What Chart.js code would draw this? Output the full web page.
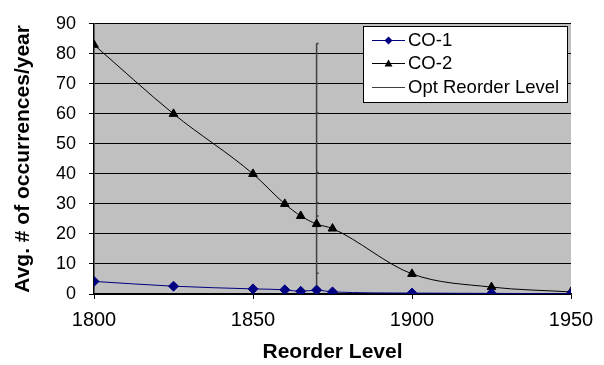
<!DOCTYPE html>
<html>
<head>
<meta charset="utf-8">
<script src="https://cdn.jsdelivr.net/npm/chart.js@4"></script>
<style>
  html, body { margin: 0; padding: 0; background: #fff; }
</style>
</head>
<body>
<canvas id="myChart" width="604" height="365"></canvas>
<script>
// Chart values
const reorderLevels = [1800, 1825, 1850, 1860, 1865, 1870, 1875, 1900, 1925, 1950];
const co1 = [4.2, 2.6, 1.7, 1.4, 0.9, 1.3, 0.7, 0.3, 0.2, 0.1];
const co2 = [83, 60, 40, 30, 26, 23.3, 21.8, 6.7, 2.3, 0.7];
const optLevel = 1870;
const optY = [83.4, 60.3, 40.5, 30.4, 26, 23.3, 6.9, 1.6];
const xTicks = [1800, 1850, 1900, 1950];
const yTicks = [0, 10, 20, 30, 40, 50, 60, 70, 80, 90];

const FONT = 'Liberation Sans, Arial, sans-serif';

// Gray plot background
const plotBg = {
    id: 'plotBg',
    beforeDraw(chart) {
        const a = chart.chartArea, c = chart.ctx;
        c.save();
        c.fillStyle = '#c0c0c0';
        c.fillRect(a.left, a.top, a.right - a.left, a.bottom - a.top);
        c.restore();
    }
};

// Boxed legend drawn inside the plot, like the original
const boxLegend = {
    id: 'boxLegend',
    afterDraw(chart) {
        const c = chart.ctx;
        const x = 363, y = 26, w = 204, h = 76;
        c.save();
        c.fillStyle = '#fff';
        c.fillRect(x, y, w, h);
        c.strokeStyle = '#000';
        c.lineWidth = 1;
        c.strokeRect(x + 0.5, y + 0.5, w, h);
        const rows = [40, 63, 87];
        chart.data.datasets.forEach((ds, i) => {
            const ry = rows[i] + 0.5;
            c.strokeStyle = ds.borderColor;
            c.lineWidth = 1;
            c.beginPath();
            c.moveTo(372, ry);
            c.lineTo(405, ry);
            c.stroke();
            c.fillStyle = ds.borderColor;
            if (ds.pointStyle === 'rectRot') {
                c.beginPath();
                c.moveTo(388.5, ry - 4); c.lineTo(392.5, ry); c.lineTo(388.5, ry + 4); c.lineTo(384.5, ry);
                c.closePath(); c.fill();
            } else if (ds.pointStyle === 'triangle') {
                c.beginPath();
                c.moveTo(388.5, ry - 4); c.lineTo(392.5, ry + 3); c.lineTo(384.5, ry + 3);
                c.closePath(); c.fill();
            }
            c.fillStyle = '#000';
            c.font = '18.5px ' + FONT;
            c.textBaseline = 'middle';
            c.fillText(ds.label, 408, rows[i] + 1);
        });
        c.restore();
    }
};

const ctx = document.getElementById('myChart');
new Chart(ctx, {
    type: 'line',
    data: {
        datasets: [{
            label: 'CO-1',
            data: reorderLevels.map((x, i) => ({ x: x, y: co1[i] })),
            borderColor: '#000080',
            backgroundColor: '#000080',
            borderWidth: 1,
            pointStyle: 'rectRot',
            pointRadius: 5,
            cubicInterpolationMode: 'monotone'
        }, {
            label: 'CO-2',
            data: reorderLevels.map((x, i) => ({ x: x, y: co2[i] })),
            borderColor: '#000',
            backgroundColor: '#000',
            borderWidth: 1,
            pointStyle: 'triangle',
            pointRadius: 5,
            cubicInterpolationMode: 'monotone'
        }, {
            label: 'Opt Reorder Level',
            data: optY.map(y => ({ x: optLevel, y: y })),
            borderColor: '#404040',
            backgroundColor: '#404040',
            borderWidth: 1.5,
            pointStyle: 'dash',
            pointRadius: 2,
            tension: 0
        }]
    },
    options: {
        responsive: false,
        animation: false,
        events: [],
        layout: { padding: { top: 14, right: 33, left: 0, bottom: 0 } },
        plugins: {
            legend: { display: false },
            tooltip: { enabled: false }
        },
        scales: {
            x: {
                type: 'linear',
                min: 1800,
                max: 1950,
                afterBuildTicks: s => { s.ticks = xTicks.map(v => ({ value: v })); },
                afterFit: s => { s.height = 71; },
                grid: { display: true, drawOnChartArea: false, tickLength: 5, color: '#000' },
                border: { color: '#000', width: 1.5 },
                ticks: {
                    color: '#000', padding: 9, maxRotation: 0, autoSkip: false,
                    callback: v => String(v),
                    font: { family: FONT, size: 20 }
                },
                title: {
                    display: true,
                    text: 'Reorder Level',
                    color: '#000',
                    padding: { top: 0, bottom: 0 },
                    font: { family: FONT, size: 21, weight: 'bold' }
                }
            },
            y: {
                min: 0,
                max: 90,
                afterBuildTicks: s => { s.ticks = yTicks.map(v => ({ value: v })); },
                afterFit: s => { s.width = 94; },
                grid: { color: '#000', lineWidth: 1, tickLength: 5 },
                border: { color: '#000', width: 1.5 },
                ticks: {
                    color: '#000', padding: 13, autoSkip: false,
                    callback: v => String(v),
                    font: { family: FONT, size: 18 }
                },
                title: {
                    display: true,
                    text: 'Avg. # of occurrences/year',
                    color: '#000',
                    padding: { top: 11, bottom: 0 },
                    font: { family: FONT, size: 21, weight: 'bold' }
                }
            }
        }
    },
    plugins: [plotBg, boxLegend]
});
</script>
</body>
</html>
